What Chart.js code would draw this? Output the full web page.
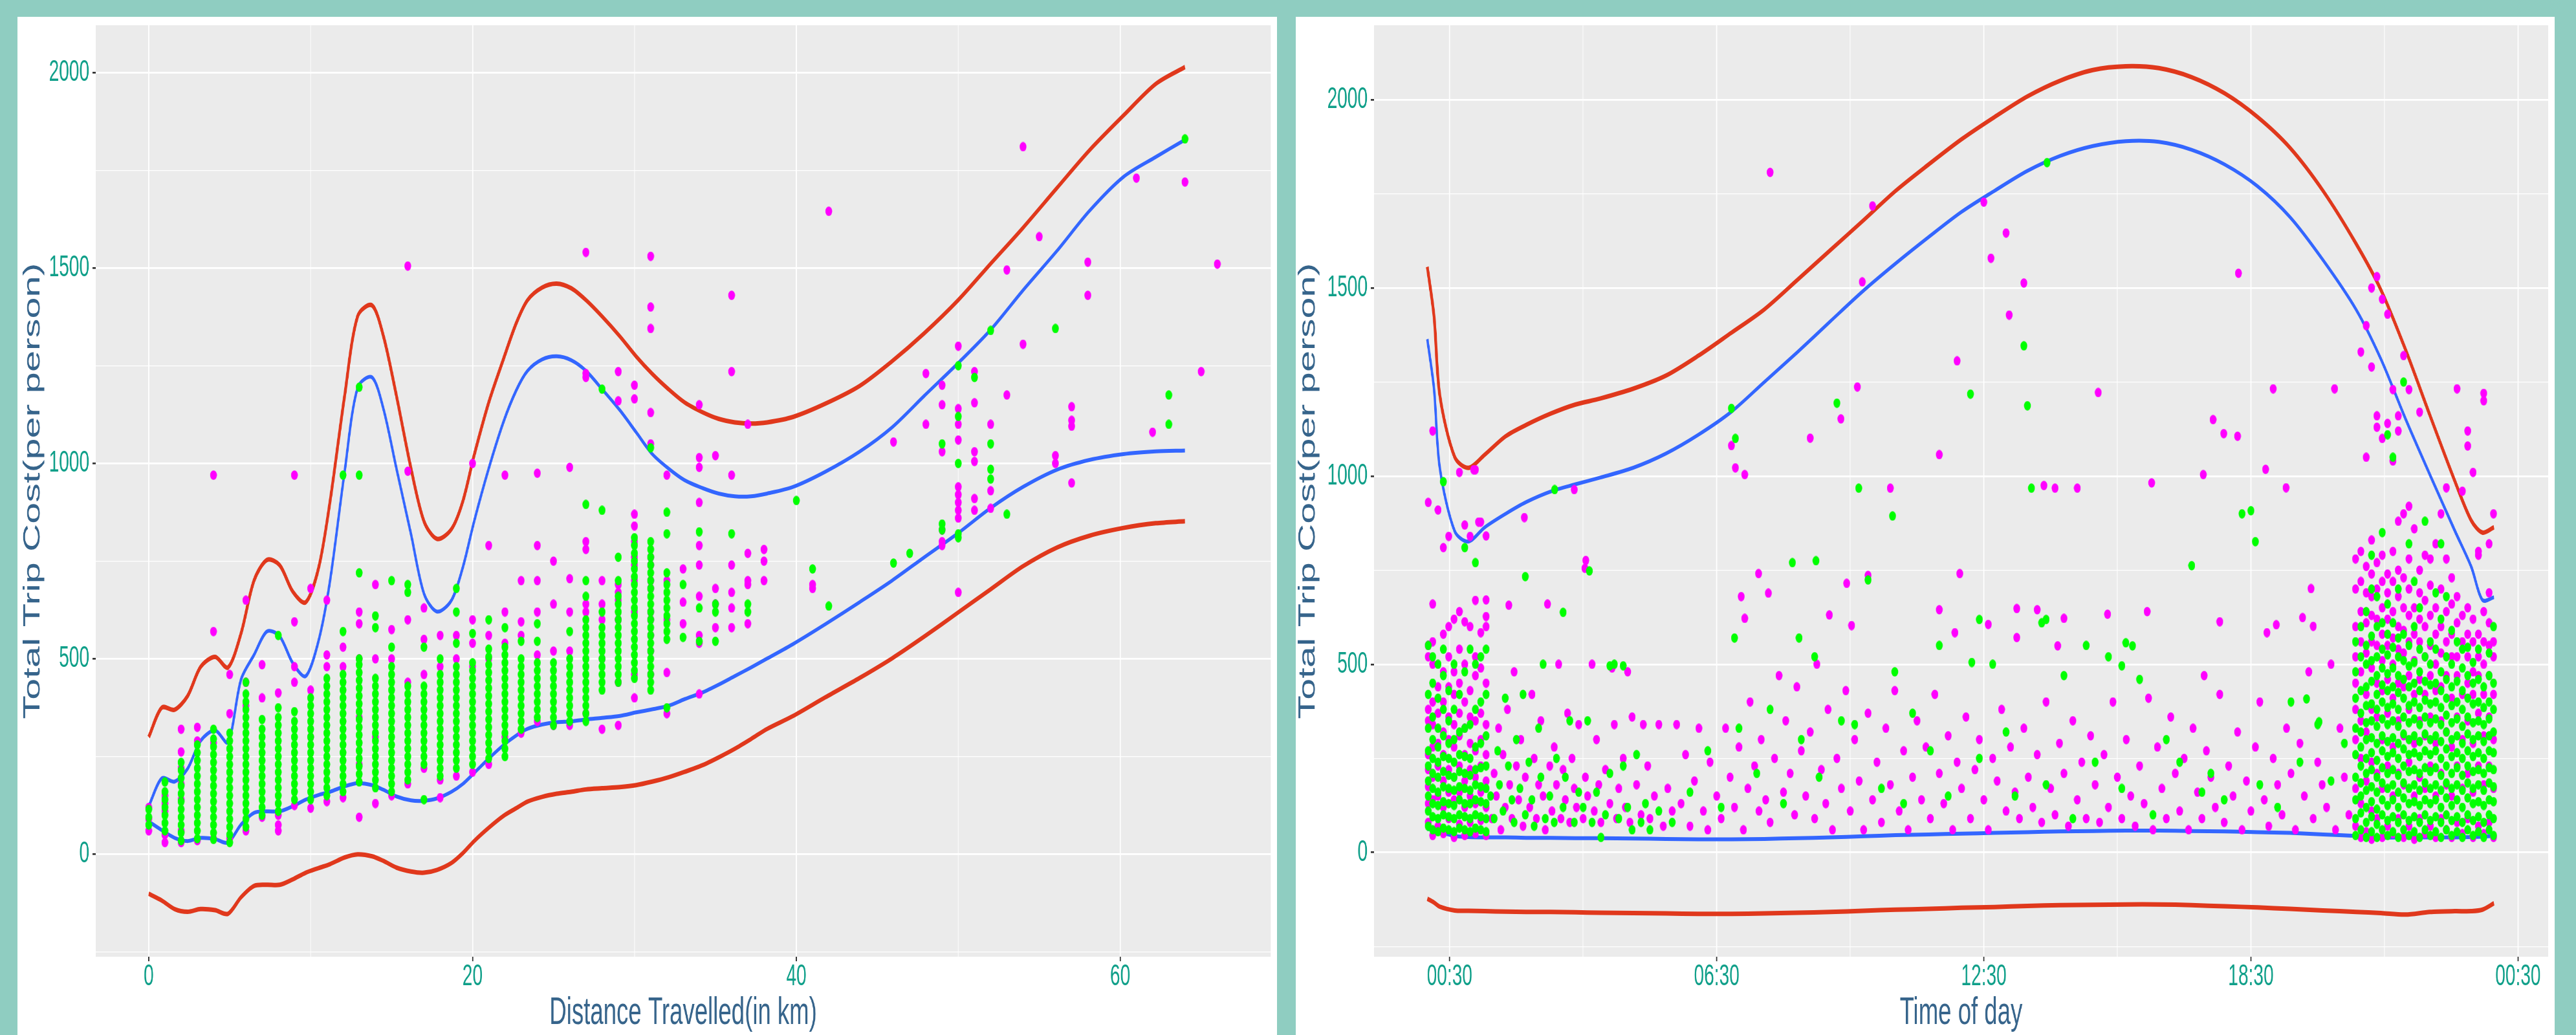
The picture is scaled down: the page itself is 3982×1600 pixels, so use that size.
<!DOCTYPE html>
<html>
<head>
<meta charset="utf-8">
<script src="https://cdn.jsdelivr.net/npm/chart.js@4.4.1/dist/chart.umd.min.js"></script>
<style>
html, body { margin: 0; padding: 0; overflow: hidden; background: #8fcdc1; width: 3982px; height: 1600px; }
.panel { position: absolute; top: 26px; height: 1574px; background: #ffffff; overflow: hidden; }
.panel canvas { position: absolute; left: 0; top: 0; transform-origin: 0 0; }
</style>
</head>
<body>
<div class="panel" id="p1" style="left:27px;width:1947px"><canvas id="distChart"></canvas></div>
<div class="panel" id="p2" style="left:2003px;width:1946px"><canvas id="timeChart"></canvas></div>
<script>
// ---- data: trip cost vs distance ----
var lineKm = [0,0.8,1.6,2.4,3.2,4.1,4.9,5.7,6.5,7.3, 8.1,8.9,9.7,10.5,11.2,12.1,12.9,13.8,14.5,15.3,
  16.2,17,17.8,18.7,19.4,20.1,21,21.9,22.7,23.4, 24.3,25.2,26.1,27,28,29.1,30.1,31.1,32.1,33.1,
  34.2,35.2,36.2,37.2,38.2,39.8,41.8,43.9,45.9,47.9, 50,52,54,56.1,58.1,60.2,62.2,64];
var kmUpperRed = [300,375,370,405,479,505,478,565,700,753, 739,672,645,734,903,1173,1376,1404,1325,1173,
  987,852,807,832,903,1021,1156,1266,1359,1418, 1450,1460,1448,1418,1376,1325,1274,1229,1190,1156,
  1131,1114,1105,1102,1105,1119,1153,1198,1261,1333, 1418,1511,1603,1705,1801,1890,1971,2014];
var kmUpperBlue = [123,194,186,219,290,317,287,447,510,570, 557,489,456,548,700,979,1193,1220,1139,987,
  819,667,621,650,734,852,987,1105,1187,1237, 1266,1274,1264,1237,1190,1136,1080,1024,987,957,
  937,923,916,916,923,940,979,1030,1092,1173, 1257,1342,1443,1544,1646,1733,1784,1828];
var kmLowerBlue = [84,62,42,34,42,39,30,76,106,110, 110,123,140,152,160,174,182,177,165,148,
  138,137,143,160,180,208,245,279,304,321, 332,338,340,345,349,354,363,371,380,397,
  414,434,456,478,501,538,589,645,700,760, 822,886,940,984,1009,1024,1031,1033];
var kmLowerRed = [-101,-118,-140,-147,-140,-143,-152,-110,-81,-78, -78,-64,-47,-35,-25,-8,0,-5,-17,-34,
  -44,-47,-40,-22,3,34,68,98,118,135, 147,155,160,166,169,172,177,186,197,211,
  228,248,270,295,321,354,402,451,501,557, 619,678,737,785,815,835,847,852];

var greenByKm = [
  [0,[75,95,115]], [1,[60,80,100,120,140,160,185]],
  [2,[35,55,75,95,115,135,155,175,195,215,235]],
  [3,[40,60,80,100,120,140,160,180,200,220,240,260,280]],
  [4,[38,55,75,95,115,135,155,175,195,215,235,255,275,295,320]],
  [5,[30,50,70,90,110,130,150,170,190,210,230,250,270,290,310]],
  [6,[70,90,110,130,150,170,190,210,230,250,270,290,310,330,350,370,390,410,440]],
  [7,[100,120,140,160,180,200,220,240,260,280,300,320,345]],
  [8,[110,130,150,170,190,210,230,250,270,290,310,330,350,375,560]],
  [9,[140,160,180,200,220,240,260,280,300,320,340,365]],
  [10,[140,160,180,200,220,240,260,280,300,320,340,360,380,400]],
  [11,[150,170,190,210,230,250,270,290,310,330,350,370,390,410,430,450]],
  [12,[160,180,200,220,240,260,280,300,320,340,360,380,400,420,440,460,570,970]],
  [13,[185,205,225,245,265,285,305,325,345,365,385,405,425,445,465,485,500,720,970,1195]],
  [14,[170,190,210,230,250,270,290,310,330,350,370,390,410,430,450,580,610]],
  [15,[160,180,200,220,240,260,280,300,320,340,360,380,400,420,440,460,480,530,700]],
  [16,[190,210,230,250,270,290,310,330,350,370,390,410,430,670,690]],
  [17,[140,230,250,270,290,310,330,350,370,390,410,430,530]],
  [18,[200,220,240,260,280,300,320,340,360,380,400,420,440,460,500]],
  [19,[220,240,260,280,300,320,340,360,380,400,420,440,460,480,540,620,680]],
  [20,[230,250,270,290,310,330,350,370,390,410,430,450,470,490,565]],
  [21,[245,265,285,305,325,345,365,385,405,425,445,465,485,505,525,600]],
  [22,[250,270,290,310,330,350,370,390,410,430,450,470,490,510,530,580]],
  [23,[320,340,360,380,400,420,440,460,480,500,545]],
  [24,[350,370,390,410,430,450,470,490,545,590]],
  [25,[330,350,370,390,410,430,450,470,490]],
  [26,[340,360,380,400,420,440,460,480,500,570]],
  [27,[340,360,380,400,420,440,460,480,500,520,540,560,580,600,660,700,895]],
  [28,[420,440,460,480,500,520,540,560,580,620,880,1190]],
  [29,[440,460,480,500,520,540,560,580,600,620,640,660,700,760]],
  [30,[450,470,490,510,530,550,570,590,610,630,650,670,690,710,730,750,770,790,810]],
  [31,[420,440,460,480,500,520,540,560,580,600,620,640,660,680,700,720,740,760,780,800,1040]],
  [32,[375,550,570,590,610,630,650,670,690,720,820,875]],
  [33,[555,690]], [34,[545,630,825]], [35,[545,620,640]], [36,[820]], [37,[620,640]],
  [40,[905]], [41,[730]], [42,[635]], [46,[745]], [47,[770]], [49,[830,845,1050]],
  [50,[810,820,1000,1120,1250]], [51,[1220]], [52,[960,985,1050,1340]], [53,[870]],
  [56,[1345]], [63,[1100,1175]], [64,[1830]]
];
var magentaByKm = [
  [0,[60,90,120]], [1,[30,50,110,130,150]], [2,[30,60,140,180,220,262,320]],
  [3,[35,290,325]], [4,[40,285,570,970]], [5,[40,360,460]], [6,[60,380,440,650]],
  [7,[95,400,485]], [8,[60,75,100,413]], [9,[125,440,480,595,970]], [10,[118,300,420,680]],
  [11,[135,480,510,650]], [12,[145,480,530]], [13,[95,230,350,500,590,620]],
  [14,[130,300,500,690]], [15,[150,500,575]], [16,[180,440,600,980,1505]],
  [17,[220,460,550,630]], [18,[145,190,480,560]], [19,[200,500,560]],
  [20,[210,480,540,600,1000]], [21,[230,500,560,790]], [22,[300,540,620,970]],
  [23,[310,560,595,700]], [24,[340,510,620,700,790,975]], [25,[330,520,640,750]],
  [26,[330,520,620,705,990]], [27,[360,620,640,780,800,1220,1230,1540]],
  [28,[320,500,600,640,700]], [29,[330,440,600,650,670,690,1160,1235]],
  [30,[400,460,620,700,740,760,800,840,870,1165,1200]],
  [31,[460,520,560,600,620,680,700,740,760,1050,1130,1345,1400,1530]],
  [32,[360,465,600,700,970]], [33,[590,645,730]],
  [34,[410,540,560,660,740,790,900,990,1015,1150]], [35,[580,640,680,1020]],
  [36,[580,630,670,740,970,1235,1430]], [37,[590,690,700,770,1100]], [38,[700,750,780]],
  [41,[680,690]], [42,[1645]], [46,[1055]], [48,[1100,1230]],
  [49,[790,800,830,1030,1150,1200]], [50,[670,860,880,900,920,940,1060,1100,1140,1300]],
  [51,[880,910,1005,1030,1155,1235]], [52,[885,930,1100]], [53,[1175,1495]],
  [54,[1305,1810]], [55,[1580]], [56,[1000,1020]], [57,[950,1095,1110,1145]],
  [58,[1430,1515]], [61,[1730]], [62,[1080]], [64,[1720]], [65,[1235]], [66,[1510]]
];

// ---- data: trip cost vs time of day (hours) ----
var lineHours = [0,0.15,0.28,0.61,0.92,1.29,1.76,2.22,2.77,3.32, 3.88,4.62,5.36,6.09,6.83,7.57,8.31,9.05,9.79,10.52,
  11.26,12,12.74,13.48,14.22,14.95,15.69,16.43,17.17,17.91, 18.65,19.38,20.12,20.86,21.42,21.97,22.52,23.08,23.45,23.7, 23.96];
var hrUpperRed = [1556,1425,1215,1052,1022,1057,1106,1136,1166,1190, 1206,1232,1267,1320,1381,1443,1521,1600,1679,1758,
  1828,1895,1954,2009,2051,2079,2089,2084,2060,2017, 1954,1872,1758,1618,1495,1337,1162,987,882,850, 864];
var hrUpperBlue = [1364,1232,1022,855,826,864,900,931,959,978, 996,1022,1060,1110,1171,1250,1329,1411,1492,1565,
  1635,1702,1758,1811,1851,1877,1890,1888,1867,1828, 1770,1688,1574,1443,1311,1153,1004,855,759,671, 678];
var hrLowerBlue = [63,60,54,44,41,40,40,39,39,38, 38,37,36,35,35,36,38,40,43,46,
  48,50,52,54,56,57,58,58,57,56, 54,52,48,44,40,40,40,40,41,42, 44];
var hrLowerRed = [-123,-133,-144,-154,-155,-156,-157,-158,-158,-159, -160,-161,-162,-163,-163,-162,-160,-158,-155,-152,
  -150,-147,-145,-142,-140,-139,-138,-138,-140,-143, -146,-150,-154,-158,-161,-165,-158,-156,-156,-152, -135];

var earlyGreen = [
  [0.02,[70,110,150,190,230,270,330,420,550]], [0.12,[60,95,130,170,210,250,300,360,450,520]],
  [0.24,[55,90,125,160,200,240,280,330,410,500]], [0.36,[65,100,135,175,215,255,310,380,470,540,985]],
  [0.48,[60,95,130,170,205,250,290,350,430]], [0.6,[55,90,125,165,200,240,300,380,500]],
  [0.72,[65,100,140,175,215,260,320,420]], [0.84,[60,95,130,170,210,255,330,480,810]],
  [0.96,[55,90,130,165,205,250,340,540]], [1.08,[65,100,140,180,220,280,380,500,770]],
  [1.2,[60,95,135,175,225,290,400,520]], [1.32,[55,90,130,170,230,310,420,540]]
];
var earlyMagenta = [
  [0.02,[80,130,175,220,260,350,380,520,550,930]], [0.12,[45,140,200,280,340,400,500,560,660,1120]],
  [0.24,[70,150,230,290,370,440,910]], [0.36,[50,120,190,260,320,400,480,580,810]],
  [0.48,[90,160,220,300,360,440,520,600,840]], [0.6,[40,140,200,280,340,420,480,620]],
  [0.72,[75,160,230,310,370,450,540,640,1010]], [0.84,[45,120,190,260,330,400,500,613,870]],
  [0.96,[80,150,220,290,360,430,600,840]], [1.08,[50,130,200,270,350,470,520,670,1017]],
  [1.2,[85,160,230,300,370,490,584,878]], [1.32,[45,120,190,260,340,450,600,627,671,841]]
];
var lateGreen = [
  [20.85,[45,90,140,200,260,330,410,480,560]], [20.97,[60,105,150,185,230,280,320,370,430,520,600]],
  [21.09,[40,80,120,165,210,250,300,345,390,440,500,550,640]],
  [21.21,[55,95,135,175,220,265,305,350,395,455,510,575,700,790]],
  [21.33,[40,75,115,160,200,245,290,335,380,420,470,520,600,680]],
  [21.45,[60,100,140,185,225,270,310,355,400,445,490,540,610,850]],
  [21.57,[45,85,125,170,210,255,295,340,385,430,475,525,580,660,1110]],
  [21.69,[55,95,140,180,220,265,305,350,395,440,490,545,610,1050]],
  [21.81,[40,80,120,160,205,250,290,335,380,425,470,520,570,700]],
  [21.93,[60,100,145,185,230,275,315,360,410,460,510,580,1250]],
  [22.05,[45,85,130,170,215,260,300,345,390,440,495,550,820]],
  [22.17,[55,95,135,180,220,265,310,355,400,450,505,600,720]],
  [22.29,[40,80,125,165,210,255,295,340,385,430,480,540,650]],
  [22.41,[60,100,140,185,225,270,315,360,405,455,520,880]],
  [22.53,[45,85,130,170,215,260,300,345,395,445,500,560]],
  [22.65,[55,95,140,180,225,270,310,355,400,450,540,690]],
  [22.77,[40,80,120,165,205,250,295,340,385,430,480,620,820]],
  [22.89,[60,100,145,185,230,275,320,365,410,460,520,680]],
  [23.01,[45,85,125,170,210,255,300,345,390,440,500,590]],
  [23.13,[55,95,140,180,225,265,310,355,400,455,560]],
  [23.25,[40,80,120,165,205,250,290,335,380,430,490,540]],
  [23.37,[60,100,145,185,230,270,315,360,410,470,545]],
  [23.49,[45,85,130,170,215,255,300,345,395,450,505]],
  [23.61,[55,95,135,180,220,265,310,350,400,460,540]],
  [23.73,[40,80,125,165,210,250,295,340,385,440]],
  [23.85,[60,100,140,185,225,270,310,355,400,470,530]],
  [23.95,[45,90,135,175,220,265,320,380,450,600]]
];
var lateMagenta = [
  [20.85,[70,170,300,380,450,520,600,700,780]], [20.97,[40,130,250,350,480,560,640,720,800,1330]],
  [21.09,[55,190,320,420,530,610,690,760,1050,1400]],
  [21.21,[35,110,240,380,490,560,630,680,740,830,1290,1500]],
  [21.33,[90,210,360,450,550,620,700,770,1130,1160,1530]],
  [21.45,[40,170,300,430,510,580,650,720,790,1100,1470]],
  [21.57,[70,230,370,460,550,620,690,740,1140,1430]],
  [21.69,[50,150,280,410,500,570,640,720,800,1040,1230]],
  [21.81,[90,210,350,450,540,600,680,750,880,1120,1160]],
  [21.93,[40,180,310,440,530,590,650,730,900,1320]],
  [22.05,[70,240,380,470,560,630,700,780,920,1230]],
  [22.17,[35,150,290,420,510,580,650,860]], [22.29,[90,200,350,460,560,620,690,750,1170]],
  [22.41,[50,170,310,420,520,600,670,790]], [22.53,[70,230,360,470,550,630,710,780]],
  [22.65,[40,150,290,430,500,580,650,820]], [22.77,[90,210,350,440,530,600,700,900]],
  [22.89,[60,180,320,470,560,640,780,969]], [23.01,[40,150,280,410,520,580,660,730]],
  [23.13,[80,230,360,470,520,610,680,1232]], [23.25,[50,170,300,420,560,630,960]],
  [23.37,[90,210,350,450,520,580,650,1080,1120]], [23.49,[40,160,290,420,480,560,620,1010]],
  [23.61,[70,230,370,470,520,580,790,800]], [23.73,[50,180,310,420,500,560,640,1200,1220]],
  [23.85,[80,230,360,470,550,610,690,820]], [23.95,[40,170,300,420,520,560,900]]
];
var sparseGreen = [
  [1.42,150],[1.5,90],[1.58,270],[1.62,180],[1.7,110],[1.75,410],[1.82,230],[1.9,140],[1.95,80],[2.0,300],
  [2.08,170],[2.15,420],[2.2,100],[2.2,733],[2.28,240],[2.35,140],[2.4,70],[2.5,330],[2.55,200],[2.6,500],
  [2.65,90],[2.75,150],[2.85,80],[2.86,964],[2.9,250],[3.05,120],[3.05,638],[3.1,200],[3.2,350],[3.3,80],
  [3.4,160],[3.5,120],[3.6,350],[3.64,748],[3.7,80],[3.8,160],[3.9,40],[4.0,100],[4.1,210],[4.1,496],
  [4.2,500],[4.3,90],[4.4,230],[4.4,496],[4.5,120],[4.6,60],[4.7,260],[4.8,80],[4.9,130],[5.0,60],
  [5.2,110],[5.5,80],[5.9,160],[6.3,270],[6.6,120],[6.83,1180],[6.92,1100],[6.9,570],[7.0,330],[7.4,210],
  [7.7,380],[8.0,130],[8.2,770],[8.35,570],[8.4,300],[8.7,520],[8.73,775],[8.8,200],[9.2,1194],[9.3,350],
  [9.69,968],[9.6,340],[9.9,724],[10.2,170],[10.45,894],[10.5,480],[10.7,130],[10.9,370],[11.3,270],[11.5,550],
  [11.7,150],[12.2,1218],[12.23,505],[12.4,619],[12.4,250],[12.7,500],[13.0,320],[13.2,150],[13.4,1346],[13.48,1187],
  [13.57,968],[13.8,610],[13.9,619],[13.92,1833],[13.9,180],[14.3,470],[14.5,90],[14.8,550],[15.0,240],[15.3,520],
  [15.6,496],[15.69,557],[15.84,549],[15.6,170],[16.0,460],[16.3,100],[16.6,300],[16.9,240],[17.17,762],[17.4,160],
  [17.6,210],[17.9,140],[18.3,900],[18.5,908],[18.6,826],[18.7,180],[19.1,120],[19.4,400],[19.6,240],[19.75,408],
  [20.0,340],[20.03,347],[20.3,190],[20.6,290]
];
var sparseMagenta = [
  [1.04,1017],[1.15,878],[2.18,890],[3.3,964],[3.56,776],[3.54,755],[1.83,657],
  [1.45,90],[1.5,210],[1.55,150],[1.6,330],[1.65,60],[1.7,260],[1.75,120],[1.8,380],[1.85,180],[1.9,90],
  [1.95,480],[2.0,230],[2.05,140],[2.1,300],[2.15,70],[2.2,200],[2.3,120],[2.35,420],[2.4,250],[2.45,90],
  [2.5,180],[2.55,350],[2.6,150],[2.65,60],[2.7,660],[2.75,230],[2.8,110],[2.85,280],[2.9,180],[2.95,500],
  [3.0,90],[3.05,220],[3.1,140],[3.15,370],[3.2,80],[3.25,250],[3.3,170],[3.35,120],[3.4,340],[3.5,90],
  [3.55,200],[3.6,150],[3.7,500],[3.75,110],[3.8,300],[3.85,180],[3.9,80],[4.0,220],[4.1,130],[4.15,490],
  [4.2,340],[4.25,90],[4.3,170],[4.4,250],[4.45,120],[4.5,480],[4.55,80],[4.6,360],[4.7,180],[4.8,100],
  [4.85,340],[4.95,230],[5.0,90],[5.1,150],[5.2,340],[5.3,70],[5.4,170],[5.5,110],[5.6,340],
  [5.7,130],[5.8,260],[5.9,70],[6.0,190],[6.1,330],[6.2,110],[6.3,60],[6.35,240],[6.5,150],[6.6,90],
  [6.7,330],[6.8,200],[6.9,120],[7.0,280],[7.1,60],[7.2,170],[7.25,400],[7.35,230],[7.45,110],[7.5,300],
  [7.6,140],[7.7,80],[7.8,250],[7.9,470],[8.0,160],[8.05,350],[8.15,210],[8.25,100],[8.3,440],[8.4,270],
  [8.5,150],[8.6,320],[8.7,90],[8.75,500],[8.85,220],[8.95,130],[9.0,380],[9.1,60],[9.2,250],[9.3,170],
  [9.4,430],[9.5,110],[9.6,300],[9.7,190],[9.8,60],[9.9,370],[10.0,140],[10.1,240],[10.2,80],[10.3,330],
  [10.4,180],[10.5,430],[10.6,110],[10.7,270],[10.8,60],[10.9,200],[11.0,350],[11.1,140],[11.2,280],[11.3,90],
  [11.4,420],[11.5,210],[11.6,130],[11.7,310],[11.8,60],[11.9,240],[12.0,170],[12.1,360],[12.2,90],[12.3,220],
  [12.4,300],[12.5,140],[12.6,60],[12.7,250],[12.8,190],[12.9,380],[13.0,110],[13.1,280],[13.2,160],[13.3,90],
  [13.4,330],[13.5,200],[13.6,120],[13.7,260],[13.8,80],[13.9,400],[14.0,170],[14.1,100],[14.2,290],[14.3,210],
  [14.4,70],[14.5,350],[14.6,140],[14.7,240],[14.8,90],[14.9,310],[15.0,180],[15.1,80],[15.2,260],[15.3,120],
  [15.4,400],[15.5,200],[15.6,90],[15.7,300],[15.8,150],[15.9,70],[16.0,230],[16.1,130],[16.2,410],[16.3,60],
  [16.4,280],[16.5,170],[16.6,90],[16.7,360],[16.8,210],[16.9,110],[17.0,250],[17.1,60],[17.2,330],[17.3,160],
  [17.4,90],[17.5,270],[17.6,200],[17.7,120],[17.8,420],[17.9,80],[18.0,230],[18.1,150],[18.2,320],[18.3,60],
  [18.4,190],[18.5,110],[18.6,280],[18.7,400],[18.8,140],[18.9,70],[19.0,250],[19.1,180],[19.2,100],[19.3,330],
  [19.4,210],[19.5,60],[19.6,290],[19.7,150],[19.8,480],[19.9,90],[20.0,240],[20.1,180],[20.2,120],[20.3,500],
  [20.4,60],[20.5,330],[20.6,200],[20.7,100],
  [7.7,1807],[10.0,1718],[9.77,1516],[9.66,1237],[9.29,1152],[8.6,1101],[10.4,968],[6.83,1081],[6.92,1022],
  [7.13,1004],[11.9,1306],[12.5,1728],[13.0,1646],[12.66,1579],[13.07,1428],[13.4,1513],[11.5,1057],[13.85,975],
  [14.1,968],[14.6,968],[15.07,1222],[16.27,982],[17.43,1004],[17.65,1150],[17.89,1113],[18.2,1106],[18.22,1539],
  [19.0,1232],[18.83,1018],[19.29,969],[20.38,1232],[17.45,470],[17.8,613],[19.85,701],[19.66,624],[19.9,601],
  [18.86,584],[19.07,605],[7.05,680],[7.13,622],[7.44,741],[7.66,689],[9.03,631],[9.42,715],[9.53,603],
  [9.9,736],[11.5,645],[11.85,584],[11.96,741],[12.6,606],[13.24,648],[13.24,571],[13.7,645],[14.3,622],
  [14.16,549],[15.28,633],[16.17,640]
];

// ---- axis ticks ----
var costTicks = [-250,0,250,500,750,1000,1250,1500,1750,2000];
var kmTicks = [0,10,20,30,40,50,60];
var timeTicks = [0.5,3.5,6.5,9.5,12.5,15.5,18.5,21.5,24.5];
var timeTickLabels = ['00:30','','06:30','','12:30','','18:30','','00:30'];

// ---- look ----
var SX = 0.61;               // horizontal squeeze of the original picture
var FONT = '"Liberation Sans", Arial, sans-serif';
var TITLE_FONT = '"Liberation Sans Narrow", "Liberation Sans", Arial, sans-serif';
var tickColour = '#0f9f89';
var titleColour = '#36648b';
var redLine = '#e0381c';
var blueLine = '#3366ff';

function dot(colour) {
  var c = document.createElement('canvas');
  c.width = 18; c.height = 15;
  var g = c.getContext('2d');
  g.fillStyle = colour;
  g.beginPath();
  g.ellipse(9, 7.5, 8.6, 7.3, 0, 0, Math.PI * 2);
  g.fill();
  return c;
}
var magentaDot = dot('#ff00ff');
var greenDot = dot('#00ff00');

function fitSize(text, family, target) {
  var g = document.createElement('canvas').getContext('2d');
  g.font = '100px ' + family;
  return 100 * target / g.measureText(text).width;
}
var yTitleText = 'Total Trip Cost(per person)';
var yTitleSize = fitSize(yTitleText, TITLE_FONT, 705);

var cols = function (list) { return list.flatMap(function (c) { return c[1].map(function (y) { return {x: c[0], y: y}; }); }); };
var pairs = function (list) { return list.map(function (p) { return {x: p[0], y: p[1]}; }); };
var line = function (xs, ys) { return xs.map(function (x, i) { return {x: x, y: ys[i]}; }); };

var panelBg = {
  id: 'panelBg',
  beforeDraw: function (chart) {
    var a = chart.chartArea, ctx = chart.ctx;
    ctx.save();
    ctx.fillStyle = '#ebebeb';
    ctx.fillRect(a.left, a.top, a.right - a.left, a.bottom - a.top);
    ctx.restore();
  }
};

function pointSet(data, img) {
  return {data: data, pointStyle: img, pointRadius: 7, pointHoverRadius: 7, showLine: false};
}
function lineSet(data, colour, width) {
  return {data: data, showLine: true, borderColor: colour, borderWidth: width, pointRadius: 0,
    pointHoverRadius: 0, tension: 0.3, fill: false};
}

function yAxis(min, max, titlePad) {
  return {
    type: 'linear', position: 'left', min: min, max: max, bounds: 'data',
    afterBuildTicks: function (s) { s.ticks = costTicks.map(function (v) { return {value: v}; }); },
    afterFit: function (s) { s.width = 198; s.paddingTop = 0; s.paddingBottom = 0; },
    ticks: { autoSkip: false, color: tickColour, padding: 8, font: {family: FONT, size: 46, lineHeight: 1},
      callback: function (v) { return v % 500 === 0 ? String(v) : ''; } },
    grid: { color: '#ffffff', drawTicks: true, tickLength: 8,
      lineWidth: function (c) { return c.tick && c.tick.value % 500 === 0 ? 2.7 : 1.3; },
      tickColor: function (c) { return c.tick && c.tick.value % 500 === 0 ? '#333333' : 'rgba(0,0,0,0)'; } },
    border: {display: false},
    title: { display: true, text: yTitleText, color: titleColour,
      font: {family: TITLE_FONT, size: yTitleSize, lineHeight: 1}, padding: {top: titlePad, bottom: 0} }
  };
}

function xAxis(min, max, vals, labelFor, isMajor, title) {
  return {
    type: 'linear', position: 'bottom', min: min, max: max, bounds: 'data',
    afterBuildTicks: function (s) { s.ticks = vals.map(function (v) { return {value: v}; }); },
    afterFit: function (s) { s.height = 121; s.paddingLeft = 0; s.paddingRight = 0; },
    ticks: { autoSkip: false, maxRotation: 0, color: tickColour, padding: 1,
      font: {family: FONT, size: 46, lineHeight: 1}, callback: labelFor },
    grid: { color: '#ffffff', drawTicks: true, tickLength: 7,
      lineWidth: function (c) { return c.tick && isMajor(c.tick.value) ? 3 : 1.6; },
      tickColor: function (c) { return c.tick && isMajor(c.tick.value) ? '#333333' : 'rgba(0,0,0,0)'; } },
    border: {display: false},
    title: { display: true, text: title, color: titleColour,
      font: {family: FONT, size: 60, lineHeight: 1}, padding: {top: 0, bottom: 4} }
  };
}

function makeChart(id, panelWidth, datasets, xCfg, yCfg) {
  var cv = document.getElementById(id);
  cv.width = Math.round(panelWidth / SX);
  cv.height = 1574;
  var ch = new Chart(cv.getContext('2d'), {
    type: 'scatter',
    data: {datasets: datasets},
    options: {
      responsive: false, animation: false, devicePixelRatio: 1,
      layout: {padding: {left: 0, right: 16, top: 13, bottom: 0}},
      plugins: {legend: {display: false}, tooltip: {enabled: false}},
      scales: {x: xCfg, y: yCfg}
    },
    plugins: [panelBg]
  });
  cv.style.transform = 'scaleX(' + SX + ')';
  return ch;
}

// first dataset is drawn on top
makeChart('distChart', 1947, [
  pointSet(cols(greenByKm), greenDot),
  pointSet(cols(magentaByKm), magentaDot),
  lineSet(line(lineKm, kmUpperBlue), blueLine, 6),
  lineSet(line(lineKm, kmLowerBlue), blueLine, 6),
  lineSet(line(lineKm, kmUpperRed), redLine, 7),
  lineSet(line(lineKm, kmLowerRed), redLine, 7)
], xAxis(-3.28, 69.3, kmTicks,
  function (v) { return v % 20 === 0 ? String(v) : ''; },
  function (v) { return v % 20 === 0; }, 'Distance Travelled(in km)'),
  yAxis(-262, 2121, 10));

makeChart('timeChart', 1946, [
  pointSet(cols(earlyGreen).concat(cols(lateGreen), pairs(sparseGreen)), greenDot),
  pointSet(cols(earlyMagenta).concat(cols(lateMagenta), pairs(sparseMagenta)), magentaDot),
  lineSet(line(lineHours, hrUpperBlue), blueLine, 6),
  lineSet(line(lineHours, hrLowerBlue), blueLine, 6),
  lineSet(line(lineHours, hrUpperRed), redLine, 7),
  lineSet(line(lineHours, hrLowerRed), redLine, 7)
], xAxis(-1.2, 25.18, timeTicks,
  function (v) { var i = timeTicks.indexOf(v); return i < 0 ? '' : timeTickLabels[i]; },
  function (v) { return (v - 0.5) % 6 === 0; }, 'Time of day'),
  yAxis(-277, 2198, 2));
</script>
</body>
</html>
